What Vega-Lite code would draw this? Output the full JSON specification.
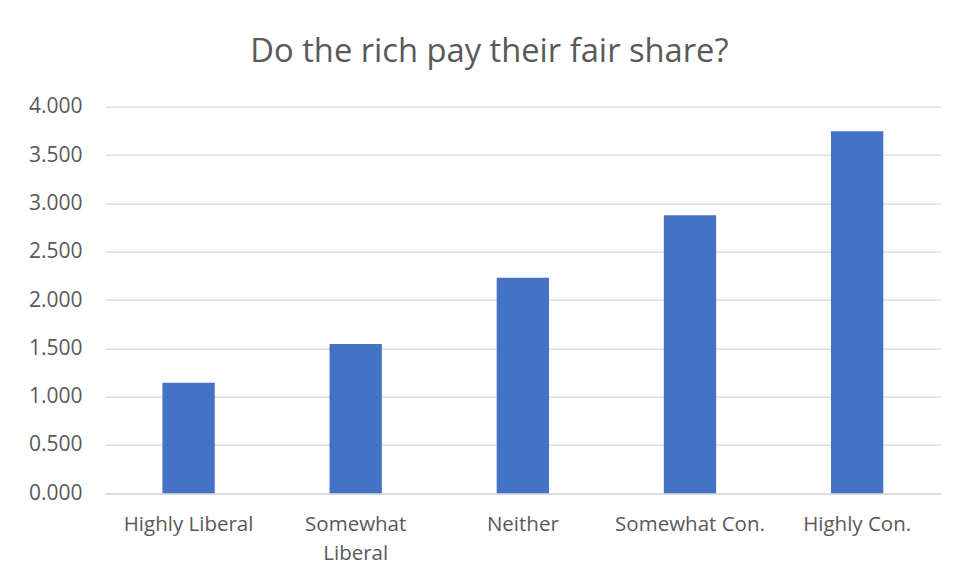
{
  "$schema": "https://vega.github.io/schema/vega-lite/v6.json",
  "autosize": {"type": "none"},
  "width": 835.7,
  "height": 386.6,
  "padding": {"left": 105, "top": 106.7, "right": 25.3, "bottom": 85.7},
  "background": "white",
  "title": {
    "text": "Do the rich pay their fair share?",
    "font": "Open Sans",
    "fontSize": 32.7,
    "fontWeight": "normal",
    "color": "#595959",
    "anchor": "middle",
    "frame": "group",
    "dx": -33.4,
    "offset": 27
  },
  "data": {
    "values": [
      {"group": "Highly Liberal", "value": 1.144},
      {"group": "Somewhat Liberal", "value": 1.545},
      {"group": "Neither", "value": 2.231},
      {"group": "Somewhat Con.", "value": 2.876},
      {"group": "Highly Con.", "value": 3.746}
    ]
  },
  "mark": {"type": "bar", "color": "#4472C4"},
  "encoding": {
    "x": {
      "field": "group",
      "type": "nominal",
      "sort": null,
      "scale": {"paddingInner": 0.687, "paddingOuter": 0.3435},
      "axis": {
        "title": null,
        "labelAngle": 0,
        "labelFont": "Open Sans",
        "labelFontSize": 20.5,
        "labelColor": "#595959",
        "labelPadding": 21,
        "labelLineHeight": 29,
        "labelExpr": "datum.label == 'Somewhat Liberal' ? ['Somewhat', 'Liberal'] : datum.label",
        "ticks": false,
        "domain": true,
        "domainColor": "#D9D9D9",
        "domainWidth": 1.3
      }
    },
    "y": {
      "field": "value",
      "type": "quantitative",
      "scale": {"domain": [0, 4], "nice": false},
      "axis": {
        "title": null,
        "values": [0, 0.5, 1, 1.5, 2, 2.5, 3, 3.5, 4],
        "format": ".3f",
        "labelFont": "Open Sans",
        "labelFontSize": 21,
        "labelColor": "#595959",
        "labelPadding": 23,
        "ticks": false,
        "domain": false,
        "grid": true,
        "gridColor": "#D9D9D9",
        "gridWidth": 1.3
      }
    }
  },
  "config": {
    "view": {"stroke": null}
  }
}
